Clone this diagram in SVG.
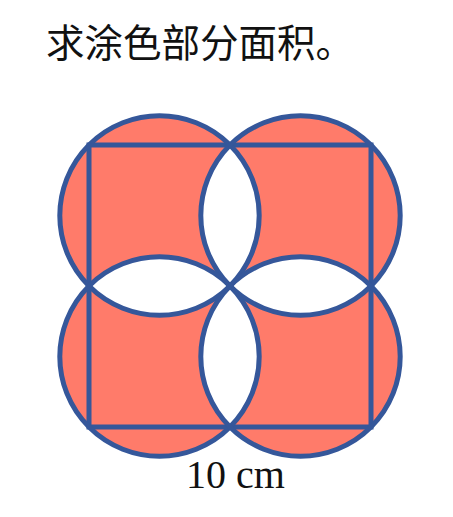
<svg xmlns="http://www.w3.org/2000/svg" width="453" height="517" viewBox="0 0 453 517">
<style>
.ln{fill:none;stroke:#35579A;stroke-width:5}
.sh{fill:#FF7B6A;fill-rule:evenodd;stroke:none}
.title{font-family:"Noto Sans CJK SC","Noto Sans",sans-serif;font-size:38.5px;fill:#111}
.lbl{font-family:"Liberation Serif","Times New Roman",serif;font-size:40px;fill:#111}
</style>
<rect width="453" height="517" fill="#fff"/>
<text class="title" x="46" y="57">求涂色部分面积。</text>
<g id="figure">
<path class="sh" d="M59.8,215.5 a99.7,99.7 0 1,0 199.4,0 a99.7,99.7 0 1,0 -199.4,0 Z M200.8,215.5 a99.7,99.7 0 1,0 199.4,0 a99.7,99.7 0 1,0 -199.4,0 Z M59.8,356.5 a99.7,99.7 0 1,0 199.4,0 a99.7,99.7 0 1,0 -199.4,0 Z M200.8,356.5 a99.7,99.7 0 1,0 199.4,0 a99.7,99.7 0 1,0 -199.4,0 Z"/>
<rect class="ln" x="89" y="145" width="282" height="282"/>
<circle class="ln" cx="159.5" cy="215.5" r="99.7"/>
<circle class="ln" cx="300.5" cy="215.5" r="99.7"/>
<circle class="ln" cx="159.5" cy="356.5" r="99.7"/>
<circle class="ln" cx="300.5" cy="356.5" r="99.7"/>
</g>
<text class="lbl" x="186" y="488">10 cm</text>
</svg>
